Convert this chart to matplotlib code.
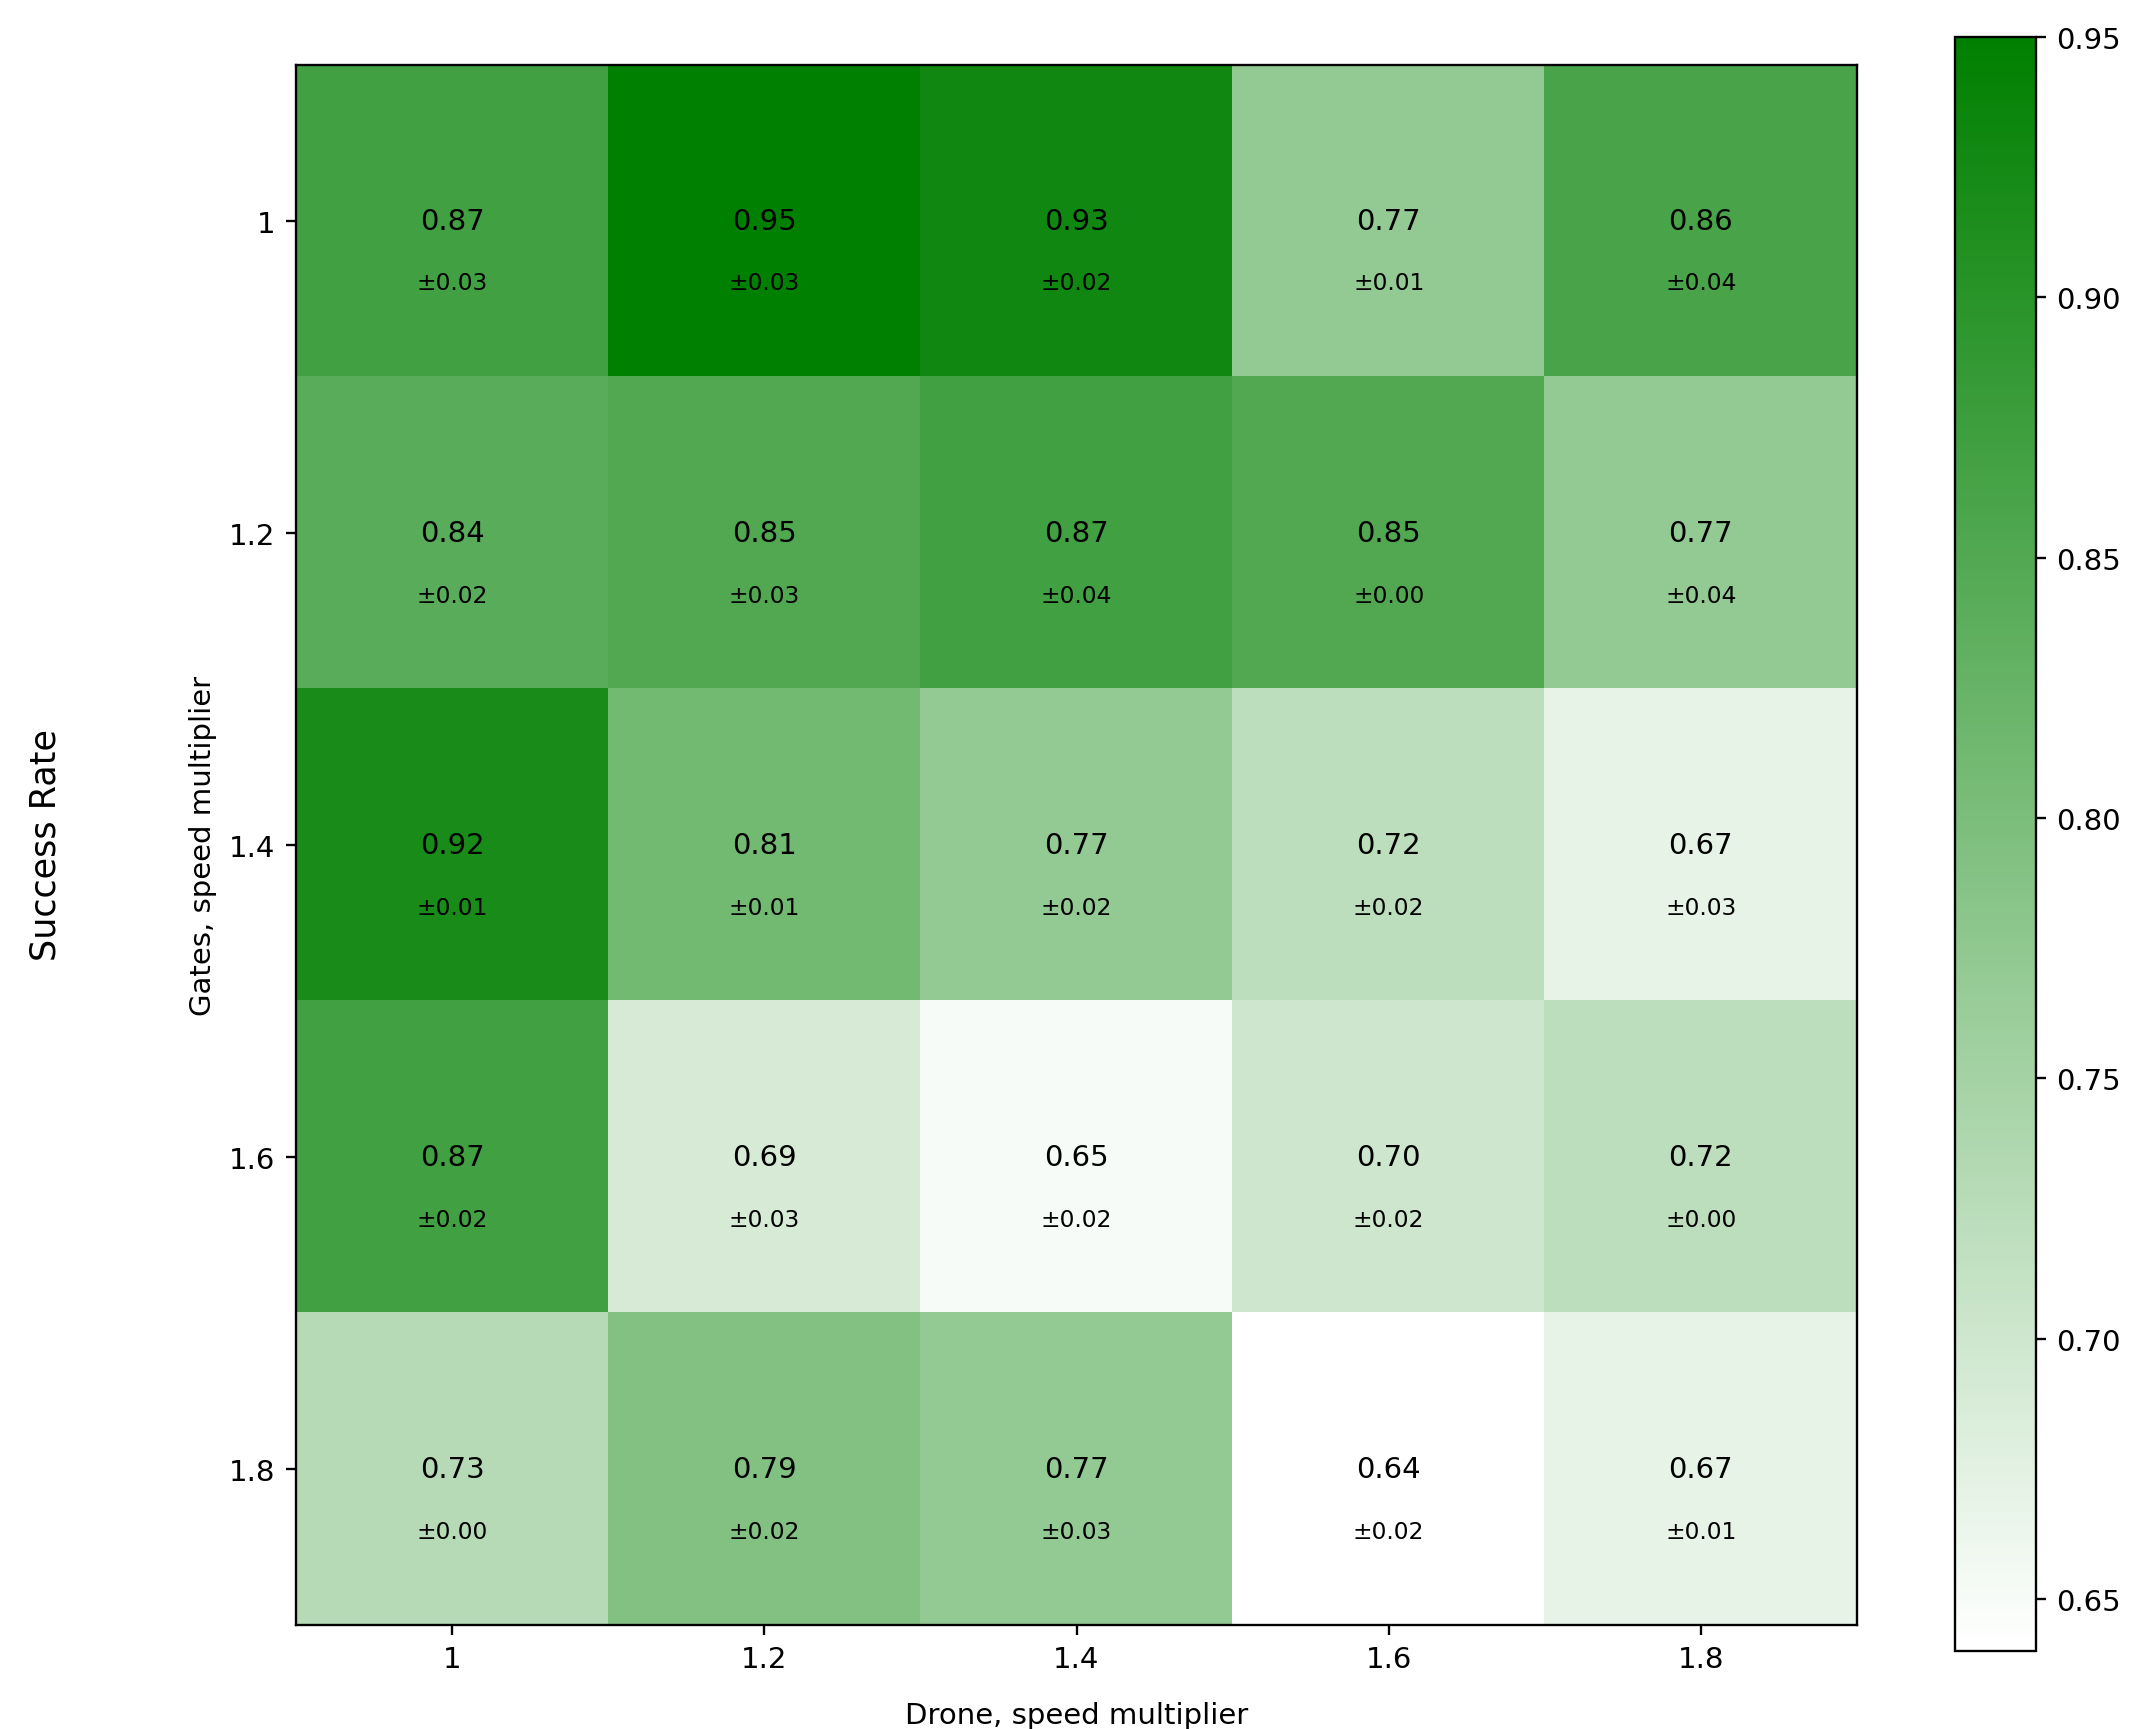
import numpy as np
import matplotlib
matplotlib.use("Agg")
import matplotlib.pyplot as plt
from matplotlib.colors import LinearSegmentedColormap

drone_labels = ["1", "1.2", "1.4", "1.6", "1.8"]
gate_labels = ["1", "1.2", "1.4", "1.6", "1.8"]

mean_vals = [
    [0.87, 0.95, 0.93, 0.77, 0.86],
    [0.84, 0.85, 0.87, 0.85, 0.77],
    [0.92, 0.81, 0.77, 0.72, 0.67],
    [0.87, 0.69, 0.65, 0.70, 0.72],
    [0.73, 0.79, 0.77, 0.64, 0.67],
]
std_vals = [
    [0.03, 0.03, 0.02, 0.01, 0.04],
    [0.02, 0.03, 0.04, 0.00, 0.04],
    [0.01, 0.01, 0.02, 0.02, 0.03],
    [0.02, 0.03, 0.02, 0.02, 0.00],
    [0.00, 0.02, 0.03, 0.02, 0.01],
]

mean = np.array(mean_vals)
std = np.array(std_vals)

W, H, DPI = 2142, 1730, 210
fig = plt.figure(figsize=(W / DPI, H / DPI), dpi=DPI)

ax = fig.add_axes([296 / W, 1 - 1626 / H, (1857 - 296) / W, (1626 - 65.5) / H])
cax = fig.add_axes([1955 / W, 1 - 1652 / H, (2036 - 1955) / W, (1652 - 38) / H])

cmap = LinearSegmentedColormap.from_list("wg", ["white", "green"])
im = ax.imshow(mean, cmap=cmap, vmin=mean.min(), vmax=mean.max(),
               aspect="auto", interpolation="nearest")

for i in range(mean.shape[0]):
    for j in range(mean.shape[1]):
        ax.text(j, i, f"{mean[i, j]:.2f}", ha="center", va="center", fontsize=10, color="black")
        ax.text(j, i + 0.2, f"\u00b1{std[i, j]:.2f}", ha="center", va="center", fontsize=8, color="black")

ax.set_xticks(range(len(drone_labels)))
ax.set_xticklabels(drone_labels)
ax.set_yticks(range(len(gate_labels)))
ax.set_yticklabels(gate_labels)
ax.set_xlabel("Drone, speed multiplier", labelpad=9.5)
ax.set_ylabel("Gates, speed multiplier")

fig.colorbar(im, cax=cax)

fig.text(45 / W, 1 - 845 / H, "Success Rate", rotation=90, ha="center", va="center", fontsize=12)

fig.savefig("out.png", dpi=DPI)
